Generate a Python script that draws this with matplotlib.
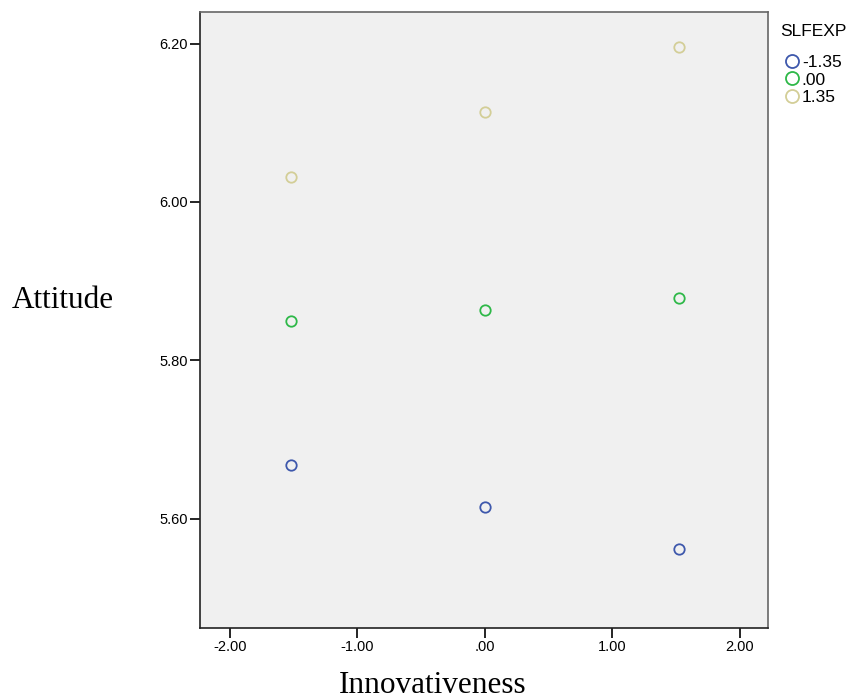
import matplotlib
matplotlib.use("Agg")
from matplotlib import pyplot as plt

# data
innov = [-1.52, 0.0, 1.52]
groups = ["-1.35", ".00", "1.35"]
attitude_low = [5.668, 5.615, 5.562]
attitude_mid = [5.850, 5.864, 5.879]
attitude_high = [6.032, 6.114, 6.196]
colors = ["#3E58AC", "#2EB848", "#D3CE97"]

fig = plt.figure(figsize=(8.49, 7.00), dpi=100)
ax = fig.add_axes([0.2356, 0.1029, 0.669, 0.88])
ax.set_facecolor("#F0F0F0")

for vals, lab, col in zip([attitude_low, attitude_mid, attitude_high], groups, colors):
    ax.plot(innov, vals, linestyle="none", marker="o", ms=7.5, mfc="none",
            mec=col, mew=1.3, label=lab)

ax.set_xlim(-2.235, 2.22)
ax.set_ylim(5.462, 6.240)
ax.set_xticks([-2, -1, 0, 1, 2])
ax.set_xticklabels(["-2.00", "-1.00", ".00", "1.00", "2.00"])
ax.set_yticks([5.6, 5.8, 6.0, 6.2])
ax.set_yticklabels(["5.60", "5.80", "6.00", "6.20"])
ax.tick_params(direction="out", length=7, width=1.2, labelsize=10.5, colors="black", pad=2)
for lbl in ax.get_xticklabels() + ax.get_yticklabels():
    lbl.set_family("Liberation Sans")
for side, s in ax.spines.items():
    s.set_linewidth(1.2)
    s.set_color("#222222" if side in ("left", "bottom") else "#666666")

fig.text(0.074, 0.571, "Attitude", family="Liberation Serif", fontsize=22.5,
         ha="center", va="center")
fig.text(0.51, 0.021, "Innovativeness", family="Liberation Serif", fontsize=22.5,
         ha="center", va="center")

# legend title drawn separately so the gap to the entries matches
fig.text(780 / 849, 1 - 32 / 700, "SLFEXP", family="Liberation Sans", fontsize=12.5,
         ha="left", va="center")
leg = ax.legend(loc="upper left", bbox_to_anchor=(0.926, 0.922),
                bbox_transform=fig.transFigure, frameon=False, handlelength=0.7,
                handletextpad=0.2, labelspacing=0.15, borderpad=0, borderaxespad=0,
                markerscale=1.25,
                prop={"family": "Liberation Sans", "size": 12.5})

fig.savefig("out.png", dpi=100)
